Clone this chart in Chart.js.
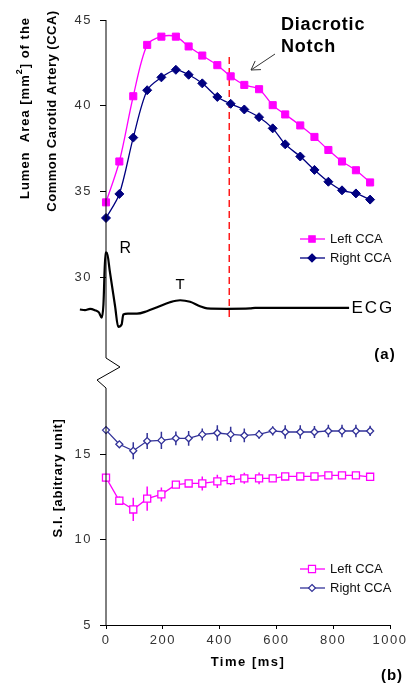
<!DOCTYPE html>
<html>
<head>
<meta charset="utf-8">
<script src="https://cdn.jsdelivr.net/npm/chart.js@4.4.1/dist/chart.umd.min.js"></script>
<style>
  html, body { margin: 0; padding: 0; background: #fff; }
  #wrap { width: 412px; height: 685px; position: relative; }
</style>
</head>
<body>
<div id="wrap"><canvas id="myChart"></canvas></div>
<script>
// frame times in ms (same for both panels)
const times = [0, 47, 96, 145, 195, 246, 291, 339, 392, 439, 487, 539, 587, 631, 684, 734, 783, 831, 880, 930];

// (a) lumen area, mm2
const areaLeft = [34.38, 36.76, 40.56, 43.55, 44.03, 44.03, 43.46, 42.93, 42.37, 41.72, 41.22, 40.97, 40.04, 39.50, 38.86, 38.19, 37.43, 36.76, 36.25, 35.54];
const areaRight = [33.47, 34.87, 38.15, 40.91, 41.66, 42.10, 41.81, 41.31, 40.52, 40.12, 39.79, 39.34, 38.69, 37.76, 37.05, 36.27, 35.58, 35.08, 34.90, 34.54];

// ECG trace, plotted against the area axis
const ecgTimes = [-92, -74, -56, -39, -25, -15, -9, -2, 3, 14, 32, 43, 55, 61, 77, 109, 144, 180, 225, 261, 296, 331, 356, 426, 507, 525, 856];
const ecgValues = [28.14, 28.10, 28.18, 28.10, 27.97, 27.66, 28.43, 31.45, 31.45, 30.30, 28.33, 27.13, 27.27, 27.85, 27.90, 27.90, 28.04, 28.27, 28.56, 28.68, 28.59, 28.33, 28.20, 28.18, 28.20, 28.24, 28.24];

// diacrotic notch marker
const notchTime = 434;
const notchRange = [42.85, 27.56];

// (b) signal intensity with error bars
const siLeft = [13.62, 12.27, 11.76, 12.39, 12.64, 13.21, 13.28, 13.28, 13.40, 13.48, 13.58, 13.58, 13.58, 13.69, 13.69, 13.69, 13.75, 13.75, 13.75, 13.67];
const siRight = [16.40, 15.57, 15.19, 15.76, 15.80, 15.92, 15.92, 16.15, 16.23, 16.15, 16.09, 16.15, 16.36, 16.29, 16.29, 16.29, 16.35, 16.35, 16.35, 16.35];
const errLeft = [0.10, 0.24, 0.68, 0.71, 0.41, 0.10, 0.10, 0.41, 0.39, 0.29, 0.32, 0.34, 0.15, 0.10, 0.10, 0.08, 0.08, 0.08, 0.08, 0.08];
const errRight = [0.08, 0.15, 0.50, 0.47, 0.50, 0.40, 0.43, 0.35, 0.45, 0.45, 0.40, 0.25, 0.27, 0.40, 0.40, 0.35, 0.37, 0.37, 0.37, 0.30];

const areaTicks = [30, 35, 40, 45];
const siTicks = [5, 10, 15];

const FONT = '"Liberation Sans", Arial, sans-serif';
const MAGENTA = '#ff00ff';
const NAVY = '#000080';
const BLUE = '#333399';

const pts = (xs, ys) => xs.map((x, i) => ({ x: x, y: ys[i] }));

const marker = (ctx, x, y, style, r, fill, stroke) => {
    ctx.beginPath();
    if (style === 'rect') {
        const s = r * Math.SQRT1_2;
        ctx.rect(x - s, y - s, 2 * s, 2 * s);
    } else {
        ctx.moveTo(x, y - r);
        ctx.lineTo(x + r, y);
        ctx.lineTo(x, y + r);
        ctx.lineTo(x - r, y);
        ctx.closePath();
    }
    ctx.fillStyle = fill;
    ctx.fill();
    ctx.lineWidth = 1.2;
    ctx.strokeStyle = stroke;
    ctx.stroke();
};

const legendItem = (ctx, x, y, color, style, r, fill, label) => {
    ctx.beginPath();
    ctx.moveTo(x, y);
    ctx.lineTo(x + 25, y);
    ctx.strokeStyle = color;
    ctx.lineWidth = 1.3;
    ctx.stroke();
    marker(ctx, x + 12, y, style, r, fill, color);
    ctx.letterSpacing = '0px';
    ctx.font = '13px ' + FONT;
    ctx.fillStyle = '#111';
    ctx.textAlign = 'left';
    ctx.textBaseline = 'middle';
    ctx.fillText(label, x + 30, y);
};

// vertical text made of parts (for the superscript)
const rotatedText = (ctx, parts, cx, cy, spacing) => {
    ctx.save();
    ctx.translate(cx, cy);
    ctx.rotate(-Math.PI / 2);
    ctx.letterSpacing = spacing;
    ctx.textAlign = 'left';
    ctx.textBaseline = 'middle';
    ctx.fillStyle = '#000';
    let total = 0;
    parts.forEach(p => { ctx.font = p.font; total += ctx.measureText(p.text).width; });
    let x = -total / 2;
    parts.forEach(p => {
        ctx.font = p.font;
        ctx.fillText(p.text, x, p.dy || 0);
        x += ctx.measureText(p.text).width;
    });
    ctx.restore();
};

const extras = {
    id: 'extras',
    beforeDraw(chart) {
        chart.ctx.letterSpacing = '1.5px';
    },
    beforeDatasetsDraw(chart) {
        const ctx = chart.ctx;
        const bars = [[2, errLeft, MAGENTA], [3, errRight, BLUE]];
        ctx.save();
        bars.forEach(([idx, errs, color]) => {
            const meta = chart.getDatasetMeta(idx);
            const ys = chart.scales[meta.yAxisID];
            const data = chart.data.datasets[idx].data;
            ctx.beginPath();
            meta.data.forEach((p, i) => {
                ctx.moveTo(p.x, ys.getPixelForValue(data[i].y + errs[i]));
                ctx.lineTo(p.x, ys.getPixelForValue(data[i].y - errs[i]));
            });
            ctx.strokeStyle = color;
            ctx.lineWidth = 1.5;
            ctx.stroke();
        });
        ctx.restore();
    },
    afterDraw(chart) {
        const { ctx, chartArea, scales } = chart;
        const left = chartArea.left;
        const split = scales.y.bottom;
        const x = scales.x;
        const y = scales.y;
        ctx.save();

        // broken y axis
        ctx.beginPath();
        ctx.moveTo(left, chartArea.top);
        ctx.lineTo(left, split - 14);
        ctx.lineTo(left + 14, split - 5);
        ctx.lineTo(left - 9, split + 8);
        ctx.lineTo(left, split + 16);
        ctx.lineTo(left, chartArea.bottom);
        ctx.strokeStyle = '#000';
        ctx.lineWidth = 1;
        ctx.stroke();

        // axis titles
        const b13 = 'bold 13px ' + FONT;
        rotatedText(ctx, [
            { text: 'Lumen  Area [mm', font: b13 },
            { text: '2', font: 'bold 9px ' + FONT, dy: -5 },
            { text: '] of the', font: b13 }
        ], 25, 108, '1px');
        rotatedText(ctx, [{ text: 'Common Carotid Artery (CCA)', font: b13 }], 52, 111, '0.5px');
        rotatedText(ctx, [{ text: 'S.I. [abitrary unit]', font: b13 }], 58, 478, '0.6px');

        ctx.letterSpacing = '1.5px';
        ctx.font = b13;
        ctx.fillStyle = '#000';
        ctx.textAlign = 'center';
        ctx.textBaseline = 'middle';
        ctx.fillText('Time [ms]', (x.left + x.right) / 2, 662);

        // panel labels
        ctx.letterSpacing = '1px';
        ctx.font = 'bold 15px ' + FONT;
        ctx.fillText('(a)', chartArea.right - 5, 355);
        ctx.fillText('(b)', chartArea.right + 2, 676);

        // ECG labels
        ctx.letterSpacing = '0px';
        ctx.font = '16px ' + FONT;
        ctx.fillText('R', x.getPixelForValue(68), y.getPixelForValue(31.7));
        ctx.font = '15px ' + FONT;
        ctx.fillText('T', x.getPixelForValue(261), y.getPixelForValue(29.6));
        ctx.letterSpacing = '2px';
        ctx.font = '17px ' + FONT;
        ctx.textAlign = 'left';
        ctx.fillText('ECG', x.getPixelForValue(864), y.getPixelForValue(28.22));

        // annotation
        ctx.letterSpacing = '0.8px';
        ctx.font = 'bold 18px ' + FONT;
        ctx.fillText('Diacrotic', 281, 25);
        ctx.fillText('Notch', 281, 47);
        const ax0 = 275, ay0 = 54, ax1 = 251, ay1 = 70;
        const ang = Math.atan2(ay1 - ay0, ax1 - ax0);
        ctx.beginPath();
        ctx.moveTo(ax0, ay0);
        ctx.lineTo(ax1, ay1);
        ctx.moveTo(ax1 - 10 * Math.cos(ang - 0.55), ay1 - 10 * Math.sin(ang - 0.55));
        ctx.lineTo(ax1, ay1);
        ctx.lineTo(ax1 - 10 * Math.cos(ang + 0.55), ay1 - 10 * Math.sin(ang + 0.55));
        ctx.strokeStyle = '#333';
        ctx.lineWidth = 1;
        ctx.stroke();

        // legends
        legendItem(ctx, 300, 239, MAGENTA, 'rect', 4.5, MAGENTA, 'Left CCA');
        legendItem(ctx, 300, 258, NAVY, 'diamond', 4, NAVY, 'Right CCA');
        legendItem(ctx, 300, 569, MAGENTA, 'rect', 5, '#fff', 'Left CCA');
        legendItem(ctx, 300, 588, BLUE, 'diamond', 3.5, '#fff', 'Right CCA');

        ctx.restore();
    }
};

const tickFont = { family: FONT, size: 13 };

new Chart(document.getElementById('myChart'), {
    type: 'line',
    data: {
        datasets: [
            {
                label: 'Left CCA',
                data: pts(times, areaLeft),
                yAxisID: 'y',
                borderColor: MAGENTA,
                backgroundColor: MAGENTA,
                borderWidth: 1.3,
                pointStyle: 'rect',
                pointRadius: 5,
                pointBorderWidth: 1,
                tension: 0.3
            },
            {
                label: 'Right CCA',
                data: pts(times, areaRight),
                yAxisID: 'y',
                borderColor: NAVY,
                backgroundColor: NAVY,
                borderWidth: 1.3,
                pointStyle: 'rectRot',
                pointRadius: 4.5,
                pointBorderWidth: 1,
                tension: 0.3
            },
            {
                label: 'Left CCA SI',
                data: pts(times, siLeft),
                yAxisID: 'y2',
                borderColor: MAGENTA,
                backgroundColor: '#fff',
                borderWidth: 1.3,
                pointStyle: 'rect',
                pointRadius: 5,
                pointBorderWidth: 1.3,
                tension: 0
            },
            {
                label: 'Right CCA SI',
                data: pts(times, siRight),
                yAxisID: 'y2',
                borderColor: BLUE,
                backgroundColor: '#fff',
                borderWidth: 1.3,
                pointStyle: 'rectRot',
                pointRadius: 3.5,
                pointBorderWidth: 1.3,
                tension: 0
            },
            {
                label: 'ECG',
                data: pts(ecgTimes, ecgValues),
                yAxisID: 'y',
                borderColor: '#000',
                borderWidth: 2.2,
                pointRadius: 0,
                cubicInterpolationMode: 'monotone',
                clip: false
            },
            {
                label: 'Notch',
                data: pts([notchTime, notchTime], notchRange),
                yAxisID: 'y',
                borderColor: '#ff1a1a',
                borderWidth: 1.5,
                borderDash: [7, 4],
                pointRadius: 0
            }
        ]
    },
    options: {
        responsive: true,
        maintainAspectRatio: false,
        animation: false,
        layout: { padding: { left: 66, right: 22, top: 20, bottom: 0 } },
        plugins: {
            legend: { display: false },
            tooltip: { enabled: false }
        },
        scales: {
            x: {
                type: 'linear',
                // range set after data limits so the ECG lead-in before 0 is still drawn
                afterDataLimits: s => { s.min = 0; s.max = 1000; },
                ticks: { stepSize: 200, font: tickFont, color: '#333', padding: 4, maxRotation: 0, callback: v => String(v) },
                grid: { drawOnChartArea: false, tickLength: 4, color: '#000' },
                border: { display: true, color: '#000', width: 1 },
                afterFit: s => { s.height = 60; }
            },
            y: {
                type: 'linear',
                position: 'left',
                stack: 'panels',
                stackWeight: 352,
                weight: 1,
                min: 24.5,
                max: 45,
                afterBuildTicks: s => { s.ticks = areaTicks.map(v => ({ value: v })); },
                afterFit: s => { s.width = 40; },
                ticks: { font: tickFont, color: '#333', padding: 8 },
                grid: { drawOnChartArea: false, tickLength: 6, color: '#000' },
                border: { display: false }
            },
            y2: {
                type: 'linear',
                position: 'left',
                stack: 'panels',
                stackWeight: 253,
                weight: 0,
                min: 5,
                max: 19.8,
                afterBuildTicks: s => { s.ticks = siTicks.map(v => ({ value: v })); },
                afterFit: s => { s.width = 40; },
                ticks: { font: tickFont, color: '#333', padding: 8 },
                grid: { drawOnChartArea: false, tickLength: 6, color: '#000' },
                border: { display: false }
            }
        }
    },
    plugins: [extras]
});
</script>
</body>
</html>
